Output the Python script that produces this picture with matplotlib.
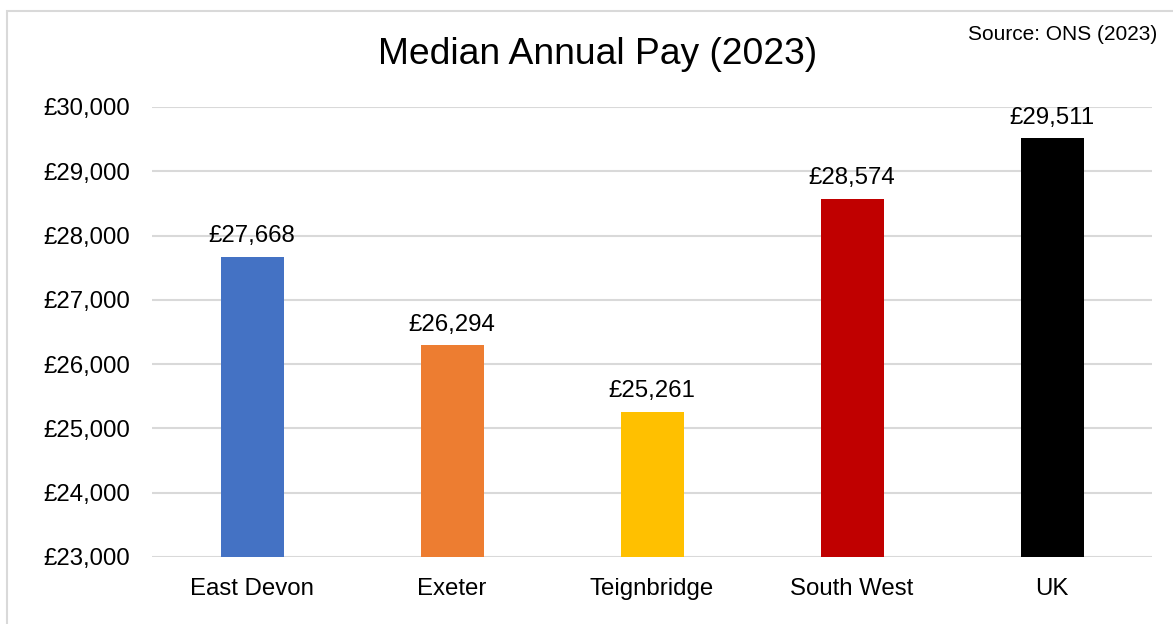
import matplotlib
matplotlib.use("Agg")
import matplotlib.pyplot as plt
from matplotlib.patches import Rectangle
from matplotlib.ticker import FuncFormatter

# Data
areas = ["East Devon", "Exeter", "Teignbridge", "South West", "UK"]
pay = [27668, 26294, 25261, 28574, 29511]
colours = ["#4472C4", "#ED7D31", "#FFC000", "#C00000", "#000000"]
y_ticks = [23000, 24000, 25000, 26000, 27000, 28000, 29000, 30000]

plt.rcParams["font.family"] = ["Liberation Sans", "DejaVu Sans"]

fig = plt.figure(figsize=(11.73, 6.24), dpi=100)
ax = fig.add_axes([152 / 1173, 1 - 557 / 624, 1000 / 1173, 450 / 624])

x = range(len(areas))
ax.bar(x, pay, width=0.315, color=colours, zorder=3)

for xi, v in zip(x, pay):
    ax.annotate(f"£{v:,}", (xi, v), xytext=(0, 7), textcoords="offset points",
                ha="center", va="bottom", fontsize=17.3)

ax.set_xlim(-0.5, 4.5)
ax.set_ylim(23000, 30000)
ax.set_yticks(y_ticks)
ax.yaxis.set_major_formatter(FuncFormatter(lambda v, p: f"£{int(v):,}"))
ax.set_xticks(list(x))
ax.set_xticklabels(areas)
ax.tick_params(axis="both", length=0, labelsize=17.3)
ax.tick_params(axis="y", pad=16)
ax.tick_params(axis="x", pad=15)
ax.grid(axis="y", color="#D9D9D9", linewidth=1.5, zorder=0)
for s in ax.spines.values():
    s.set_visible(False)

fig.text(598 / 1173, 1 - 54 / 624, "Median Annual Pay (2023)", ha="center",
         va="center", fontsize=26.8)
fig.text(1157 / 1173, 1 - 34 / 624, "Source: ONS (2023)", ha="right",
         va="center", fontsize=15)

# outer chart border (cropped at right/bottom)
fig.patches.append(Rectangle((7 / 1173, -0.1), 1.2, 1 - 11 / 624 + 0.1,
                             transform=fig.transFigure, fill=False,
                             edgecolor="#D9D9D9", linewidth=1.5))

fig.savefig("out.png", dpi=100)
